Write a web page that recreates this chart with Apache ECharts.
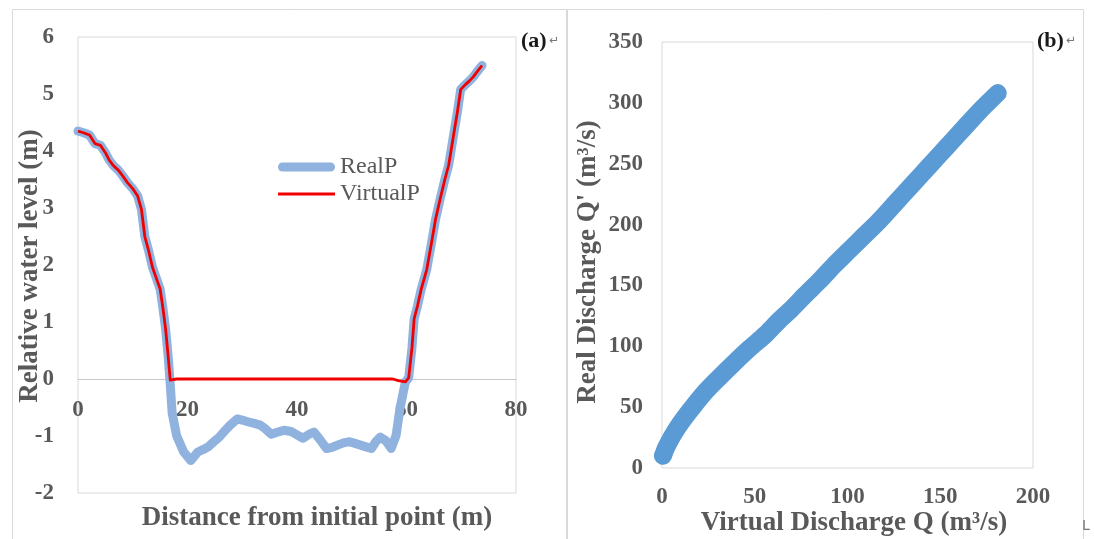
<!DOCTYPE html>
<html>
<head>
<meta charset="utf-8">
<script src="https://cdn.jsdelivr.net/npm/echarts@6/dist/echarts.min.js"></script>
<style>
html, body { margin: 0; padding: 0; background: #fff; }
#main { width: 1094px; height: 539px; }
</style>
</head>
<body>
<div id="main"></div>
<script>
// (a) cross section: [distance from initial point (m), relative water level (m)]
const leftBank = [[0, 4.35], [1, 4.32], [2.1, 4.28], [3.1, 4.13], [4.1, 4.1], [5, 3.97], [5.7, 3.84], [6.5, 3.74], [7.4, 3.66], [8.2, 3.56], [9, 3.45], [10, 3.34], [10.9, 3.21], [11.6, 2.97], [12.2, 2.5], [12.9, 2.25], [13.6, 1.96], [14.3, 1.77], [15, 1.58], [15.5, 1.25], [16, 0.88], [16.5, 0.36]]
const rightBank = [[60.4, 0.02], [61, 0.55], [61.4, 1.06], [62, 1.28], [62.7, 1.58], [63.7, 1.92], [64.5, 2.35], [65.3, 2.8], [66.2, 3.18], [67, 3.5], [67.7, 3.75], [68.3, 4.1], [68.8, 4.4], [69.3, 4.69], [69.9, 5.08], [70.7, 5.16], [71.5, 5.23], [72.2, 5.3], [72.8, 5.38], [73.3, 5.44], [73.8, 5.5]]
const realBed = [[16.85, -0.1], [17.2, -0.6], [18, -0.99], [19.3, -1.28], [20.6, -1.43], [21.9, -1.28], [22.8, -1.24], [23.8, -1.19], [24.8, -1.1], [25.8, -1.02], [26.8, -0.91], [27.8, -0.81], [29.1, -0.7], [30, -0.72], [31, -0.75], [32.2, -0.78], [33.3, -0.81], [34.3, -0.88], [35.3, -0.97], [36.5, -0.93], [37.6, -0.9], [38.9, -0.92], [40, -0.98], [41.1, -1.04], [42.2, -0.97], [43.1, -0.93], [44.1, -1.05], [45.4, -1.22], [46.4, -1.2], [47.4, -1.16], [48.5, -1.12], [49.6, -1.1], [50.6, -1.13], [51.6, -1.16], [52.6, -1.19], [53.6, -1.22], [54.4, -1.1], [55.2, -1.02], [56.2, -1.08], [57.2, -1.22], [58.1, -0.99], [58.8, -0.52], [59.8, -0.05]]
const virtualBed = [[16.85, -0.02], [17.2, -0.05], [18, 0], [30, 0], [45, 0], [57.5, 0], [58.5, -0.03], [59.8, -0.05]]

// (b) discharge relation
const virtualQ = [0.5, 1, 2, 4, 7, 11, 16, 23, 30, 38, 47, 56, 63, 70, 77, 85, 93, 101, 109, 117, 126, 135, 144, 153, 162, 171, 181]
const realQ = [10, 12, 16, 22, 30, 39, 49, 62, 73, 85, 98, 110, 121, 131, 142, 154, 167, 179, 191, 203, 218, 233, 248, 263, 278, 293, 308]

const realP = leftBank.concat(realBed, rightBank)
const virtualP = leftBank.concat(virtualBed, rightBank)
const discharge = virtualQ.map((q, i) => [q, realQ[i]])

const serif = 'Liberation Serif'
const gray = '#595959'
const tickLabel = { fontFamily: serif, fontWeight: 'bold', fontSize: 23, color: gray }
const titleStyle = { fontFamily: serif, fontWeight: 'bold', fontSize: 27, fill: gray }

// legend keys: thick rounded bar and thin bar inside the same 57x9 box
const thickKey = 'path://M4.5,0H52.5A4.5,4.5,0,0,1,52.5,9H4.5A4.5,4.5,0,0,1,4.5,0Z'
const thinKey = 'path://M0,0L0,0M0,9L0,9M0,3.1H57V5.9H0Z'

let chart = echarts.init(document.getElementById('main'))
chart.setOption({
  animation: false,
  grid: [
    { left: 78, top: 37, width: 438, height: 456, show: true, borderColor: '#d9d9d9', borderWidth: 1 },
    { left: 662, top: 42, width: 371, height: 426, show: true, borderColor: '#d9d9d9', borderWidth: 1 }
  ],
  xAxis: [
    {
      gridIndex: 0, type: 'value', min: 0, max: 80, interval: 20,
      // axis crosses at level 0
      offset: -114,
      axisLine: { onZero: false, lineStyle: { color: '#c8c8c8' } },
      axisTick: { show: false }, splitLine: { show: false },
      axisLabel: Object.assign({ margin: 20 }, tickLabel)
    },
    {
      gridIndex: 1, type: 'value', min: 0, max: 200, interval: 50,
      axisLine: { show: false }, axisTick: { show: false }, splitLine: { show: false },
      axisLabel: Object.assign({ margin: 18 }, tickLabel)
    }
  ],
  yAxis: [
    {
      gridIndex: 0, type: 'value', min: -2, max: 6, interval: 1,
      axisLine: { show: false }, axisTick: { show: false }, splitLine: { show: false },
      axisLabel: Object.assign({ margin: 24 }, tickLabel)
    },
    {
      gridIndex: 1, type: 'value', min: 0, max: 350, interval: 50,
      axisLine: { show: false }, axisTick: { show: false }, splitLine: { show: false },
      axisLabel: Object.assign({ margin: 19 }, tickLabel)
    }
  ],
  legend: {
    data: [
      { name: 'RealP', icon: thickKey },
      { name: 'VirtualP', icon: thinKey }
    ],
    orient: 'vertical',
    left: 273, top: 150,
    itemWidth: 57, itemHeight: 9, itemGap: 3,
    textStyle: { fontFamily: serif, fontSize: 24, color: gray }
  },
  series: [
    {
      name: 'RealP', type: 'line', xAxisIndex: 0, yAxisIndex: 0,
      data: realP, symbol: 'none',
      lineStyle: { color: '#8fb2de', width: 9, cap: 'round', join: 'round' },
      itemStyle: { color: '#8fb2de' }
    },
    {
      name: 'VirtualP', type: 'line', xAxisIndex: 0, yAxisIndex: 0,
      data: virtualP, symbol: 'none',
      lineStyle: { color: '#f00000', width: 2.8, join: 'round' },
      itemStyle: { color: '#f00000' }
    },
    {
      name: 'Discharge', type: 'line', xAxisIndex: 1, yAxisIndex: 1,
      data: discharge, symbol: 'none', smooth: 0.3,
      lineStyle: { color: '#5b9bd5', width: 18, cap: 'round', join: 'round' }
    }
  ],
  graphic: [
    { type: 'rect', shape: { x: 12.5, y: 9.5, width: 554, height: 540 }, style: { fill: 'none', stroke: '#d9d9d9', lineWidth: 1 }, silent: true },
    { type: 'rect', shape: { x: 567.5, y: 9.5, width: 516, height: 540 }, style: { fill: 'none', stroke: '#d9d9d9', lineWidth: 1 }, silent: true },
    { type: 'text', x: 30, y: 266, rotation: Math.PI / 2, style: Object.assign({ text: 'Relative water level (m)', align: 'center', verticalAlign: 'middle' }, titleStyle) },
    { type: 'text', x: 317, y: 518, style: Object.assign({ text: 'Distance from initial point (m)', align: 'center', verticalAlign: 'middle' }, titleStyle) },
    { type: 'text', x: 588, y: 262, rotation: Math.PI / 2, style: Object.assign({ text: 'Real Discharge Q\' (m³/s)', align: 'center', verticalAlign: 'middle' }, titleStyle) },
    { type: 'text', x: 854, y: 523, style: Object.assign({ text: 'Virtual Discharge Q (m³/s)', align: 'center', verticalAlign: 'middle' }, titleStyle) },
    { type: 'text', x: 521, y: 41, style: { text: '(a)', fontFamily: serif, fontWeight: 'bold', fontSize: 22, fill: '#1a1a1a', verticalAlign: 'middle' } },
    { type: 'text', x: 549, y: 41, style: { text: '↵', fontFamily: 'DejaVu Sans', fontSize: 12, fill: '#777', verticalAlign: 'middle' } },
    { type: 'text', x: 1037, y: 41, style: { text: '(b)', fontFamily: serif, fontWeight: 'bold', fontSize: 22, fill: '#1a1a1a', verticalAlign: 'middle' } },
    { type: 'text', x: 1066, y: 41, style: { text: '↵', fontFamily: 'DejaVu Sans', fontSize: 12, fill: '#777', verticalAlign: 'middle' } },
    { type: 'text', x: 1082, y: 526, style: { text: 'L', fontFamily: 'DejaVu Sans', fontSize: 14, fill: '#777', verticalAlign: 'middle' } }
  ]
})
</script>
</body>
</html>
